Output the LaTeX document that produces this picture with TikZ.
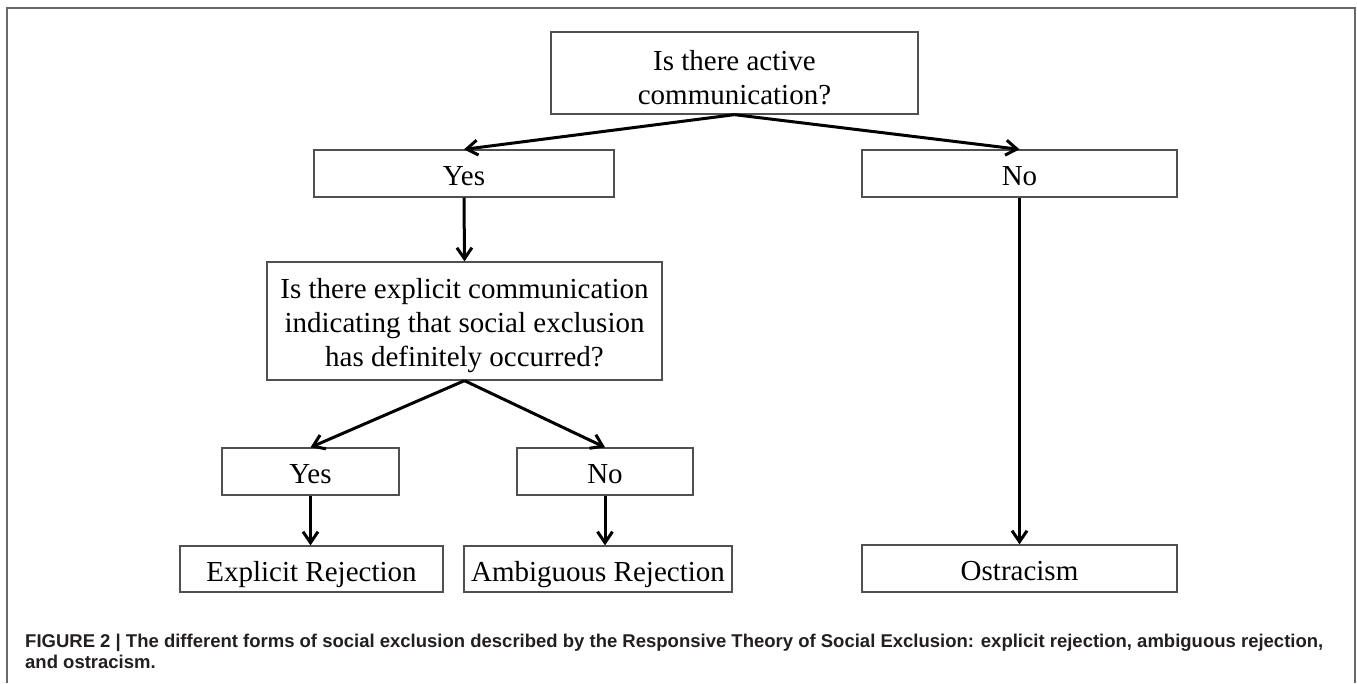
\documentclass[tikz,border=0pt]{standalone}
\usepackage{fontspec}
\setmainfont{Liberation Serif}
\newfontfamily\captionfont{Liberation Sans}
\usepackage{tikz}
\usetikzlibrary{arrows.meta}
\definecolor{boxgray}{RGB}{80, 80, 80}
\definecolor{framegray}{RGB}{105, 105, 105}
\definecolor{captext}{RGB}{35, 31, 32}

\begin{document}
\begin{tikzpicture}[x=1pt, y=-1pt,
        box/.style={draw=boxgray, line width=1.3pt, inner sep=0pt, align=center,
            font=\fontsize{29}{34}\selectfont},
        answer/.style={box, text height=29pt, text depth=5pt},
        arrow/.style={-{Straight Barb[length=11pt, width=15pt]}, line width=3pt},
        captionline/.style={anchor=base west, inner sep=0pt, text=captext,
            font=\captionfont\bfseries\fontsize{18.5}{22}\selectfont}]
        \useasboundingbox (0,0) rectangle (1357,683);

        % Frame, open at the bottom
        \draw[framegray, line width=1.4pt] (7,683) -- (7,8) -- (1355,8) -- (1355,683);

        % First question and its answers
        \node[box, minimum width=367, minimum height=82] (q1) at (734.5,73) {\rule{0pt}{29pt}Is there active\\communication?};
        \node[answer, minimum width=300, minimum height=47] (yes1) at (464,173.5) {Yes};
        \node[answer, minimum width=315, minimum height=47] (no1) at (1019.5,173.5) {No};

        % Second question and its answers
        \node[box, minimum width=395, minimum height=118] (q2) at (464.5,321) {\rule{0pt}{29pt}Is there explicit communication\\indicating that social exclusion\\has definitely occurred?};
        \node[answer, minimum width=177, minimum height=47] (yes2) at (310.5,471.5) {Yes};
        \node[answer, minimum width=176, minimum height=47] (no2) at (605,471.5) {No};

        % Outcomes
        \node[answer, minimum width=263, minimum height=46] (expl) at (311.5,569) {Explicit Rejection};
        \node[answer, minimum width=268, minimum height=46] (amb) at (598,569) {Ambiguous Rejection};
        \node[answer, minimum width=315, minimum height=47] (ostr) at (1019.5,568.5) {Ostracism};

        % Arrows
        \draw[arrow] (q1.south) -- (yes1.north);
        \draw[arrow] (q1.south) -- (no1.north);
        \draw[arrow] (yes1.south) -- (q2.north);
        \draw[arrow] (no1.south) -- (ostr.north);
        \draw[arrow] (q2.south) -- (yes2.north);
        \draw[arrow] (q2.south) -- (no2.north);
        \draw[arrow] (yes2.south) -- (yes2.south |- expl.north);
        \draw[arrow] (no2.south) -- (no2.south |- amb.north);

        % Caption
        \node[captionline] (cap1) at (25,647) {FIGURE 2 | The different forms of social exclusion described by the Responsive Theory of Social Exclusion: explicit rejection, ambiguous rejection,};
        \node[captionline] (cap2) at (25,668) {and ostracism.};
\end{tikzpicture}
\end{document}
